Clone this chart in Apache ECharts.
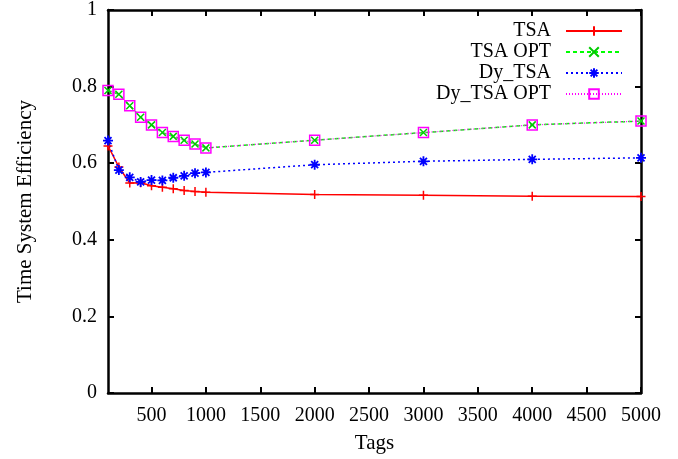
<!DOCTYPE html>
<html>
<head>
<meta charset="utf-8">
<script src="https://cdn.jsdelivr.net/npm/echarts@6/dist/echarts.min.js"></script>
<style>html,body{margin:0;padding:0;background:#fff}#c{width:678px;height:459px}</style>
</head>
<body>
<div id="c"></div>
<script>
var tags = [100, 200, 300, 400, 500, 600, 700, 800, 900, 1000, 2000, 3000, 4000, 5000];
var tsa = [0.645, 0.59, 0.548, 0.549, 0.541, 0.537, 0.533, 0.529, 0.526, 0.524, 0.518, 0.516, 0.514, 0.513];
var tsaOpt = [0.79, 0.78, 0.75, 0.72, 0.70, 0.68, 0.67, 0.66, 0.65, 0.64, 0.66, 0.68, 0.70, 0.71];
var dyTsa = [0.659, 0.582, 0.563, 0.551, 0.556, 0.555, 0.562, 0.567, 0.574, 0.576, 0.596, 0.605, 0.61, 0.614];
var dyTsaOpt = [0.79, 0.78, 0.75, 0.72, 0.70, 0.68, 0.67, 0.66, 0.65, 0.64, 0.66, 0.68, 0.70, 0.71];
var xTicks = [500, 1000, 1500, 2000, 2500, 3000, 3500, 4000, 4500, 5000];
var seriesNames = ['TSA', 'TSA OPT', 'Dy_TSA', 'Dy_TSA OPT'];

function pairs(vals) { return tags.map(function (t, i) { return [t, vals[i]]; }); }

var FONT = 'Liberation Serif';
var plus = 'path://M0,5L10,5M5,0L5,10';
var cross = 'path://M0,0L10,10M10,0L0,10';
var star = 'path://M0,5L10,5M5,0L5,10M1.5,1.5L8.5,8.5M8.5,1.5L1.5,8.5';
var square = 'path://M0,0L10,0L10,10L0,10Z';

var axisLineStyle = { color: '#000', width: 2.5 };

var chart = echarts.init(document.getElementById('c'));
chart.setOption({
  animation: false,
  backgroundColor: '#fff',
  textStyle: { fontFamily: FONT },
  grid: { left: 108, right: 37, top: 10, bottom: 65, containLabel: false },
  legend: {
    orient: 'vertical',
    right: 50,
    top: 16,
    align: 'right',
    itemWidth: 56,
    itemHeight: 12,
    itemGap: 1,
    data: seriesNames,
    textStyle: { fontFamily: FONT, fontSize: 20, lineHeight: 20, color: '#000', padding: [0, 10, 0, 0] }
  },
  xAxis: [{
    type: 'value', min: 100, max: 5000, position: 'bottom',
    name: 'Tags', nameLocation: 'middle', nameGap: 40,
    nameTextStyle: { fontFamily: FONT, fontSize: 21, color: '#000' },
    axisLine: { show: true, onZero: false, lineStyle: axisLineStyle },
    axisTick: { show: true, inside: true, length: 6, customValues: xTicks, lineStyle: { color: '#000', width: 2 } },
    axisLabel: { customValues: xTicks, fontFamily: FONT, fontSize: 20, color: '#000', margin: 13,
      formatter: function (v) { return String(v); } },
    splitLine: { show: false }
  }, {
    type: 'value', min: 100, max: 5000, position: 'top',
    axisLine: { show: true, onZero: false, lineStyle: axisLineStyle },
    axisTick: { show: true, inside: true, length: 6, customValues: xTicks, lineStyle: { color: '#000', width: 2 } },
    axisLabel: { show: false },
    splitLine: { show: false }
  }],
  yAxis: [{
    type: 'value', min: 0, max: 1, interval: 0.2, position: 'left',
    name: 'Time System Efficiency', nameLocation: 'middle', nameGap: 72, nameRotate: 90,
    nameTextStyle: { fontFamily: FONT, fontSize: 21, color: '#000' },
    axisLine: { show: true, onZero: false, lineStyle: axisLineStyle },
    axisTick: { show: true, inside: true, length: 6, lineStyle: { color: '#000', width: 2 } },
    axisLabel: { fontFamily: FONT, fontSize: 20, color: '#000', margin: 11 },
    splitLine: { show: false }
  }, {
    type: 'value', min: 0, max: 1, interval: 0.2, position: 'right',
    axisLine: { show: true, onZero: false, lineStyle: axisLineStyle },
    axisTick: { show: true, inside: true, length: 6, lineStyle: { color: '#000', width: 2 } },
    axisLabel: { show: false },
    splitLine: { show: false }
  }],
  series: [{
    name: seriesNames[0], type: 'line', data: pairs(tsa),
    symbol: plus, symbolSize: 9,
    lineStyle: { color: '#ff0000', width: 1.5 },
    itemStyle: { color: '#ff0000', borderColor: '#ff0000', borderWidth: 1.5 }
  }, {
    name: seriesNames[1], type: 'line', data: pairs(tsaOpt),
    symbol: cross, symbolSize: 7,
    lineStyle: { color: '#00ff00', width: 1.5, type: [4, 3] },
    itemStyle: { color: '#00cc00', borderColor: '#00cc00', borderWidth: 1.5 }
  }, {
    name: seriesNames[2], type: 'line', data: pairs(dyTsa),
    symbol: star, symbolSize: 10,
    lineStyle: { color: '#0000ff', width: 1.5, type: [2, 3] },
    itemStyle: { color: '#0000ff', borderColor: '#0000ff', borderWidth: 1.8 }
  }, {
    name: seriesNames[3], type: 'line', data: pairs(dyTsaOpt),
    symbol: square, symbolSize: 10,
    lineStyle: { color: '#ff00ff', width: 1.2, type: [1, 2] },
    itemStyle: { color: 'rgba(0,0,0,0)', borderColor: '#ff00ff', borderWidth: 1.5 }
  }]
});
</script>
</body>
</html>
